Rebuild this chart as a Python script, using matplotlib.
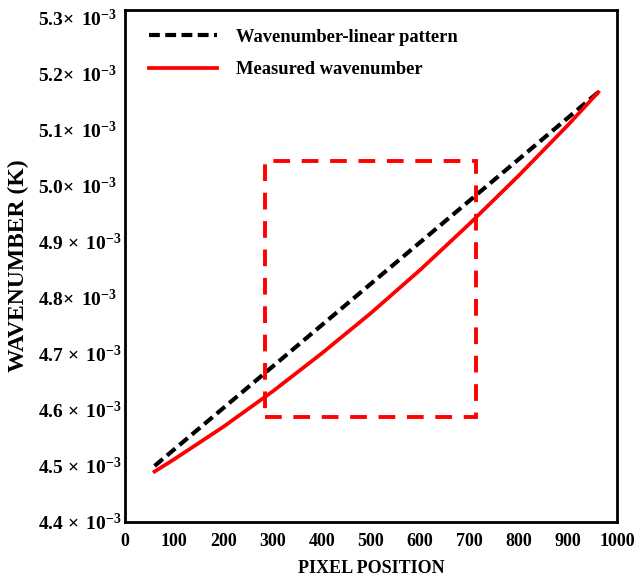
import matplotlib
matplotlib.use("Agg")
import matplotlib.pyplot as plt
from matplotlib.patches import Rectangle

plt.rcParams["font.family"] = ["Liberation Serif", "DejaVu Serif"]
plt.rcParams["font.weight"] = "bold"
plt.rcParams["mathtext.fontset"] = "custom"
plt.rcParams["mathtext.rm"] = "Liberation Serif:bold"
plt.rcParams["mathtext.bf"] = "Liberation Serif:bold"
plt.rcParams["mathtext.it"] = "Liberation Serif:bold"

# linear reference pattern (end points)
linear_x = [60, 962]
linear_y = [4.500e-3, 5.167e-3]

# measured wavenumber
measured_x = [60, 100, 200, 300, 400, 500, 600, 700, 800, 900, 962]
measured_y = [4.490e-3, 4.512e-3, 4.570e-3, 4.633e-3, 4.701e-3, 4.773e-3,
              4.850e-3, 4.932e-3, 5.018e-3, 5.108e-3, 5.167e-3]

# zoom box
box_x = [284, 713]
box_y = [4.5875e-3, 5.045e-3]

y_ticks = [4.4, 4.5, 4.6, 4.7, 4.8, 4.9, 5.0, 5.1, 5.2, 5.3]
# labels in the source have a space before the cross on some rows only
y_spaced = [4.4, 4.5, 4.6, 4.7, 4.9]
x_ticks = [0, 100, 200, 300, 400, 500, 600, 700, 800, 900, 1000]

fig = plt.figure(figsize=(6.38, 5.8), dpi=100)
ax = fig.add_axes([0.196, 0.1, 0.771, 0.883])

ax.plot(linear_x, linear_y, color="black", linestyle=(0, (2.6, 1.3)),
        linewidth=3.0, label="Wavenumber-linear pattern", zorder=3)
ax.plot(measured_x, measured_y, color="red", linewidth=2.7,
        label="Measured wavenumber", zorder=4)
ax.add_patch(Rectangle((box_x[0], box_y[0]), box_x[1] - box_x[0],
                       box_y[1] - box_y[0], fill=False, edgecolor="red",
                       linestyle=(0, (4.3, 3)), linewidth=2.8, zorder=5))

ax.set_xlim(0, 1000)
ax.set_ylim(4.4e-3, 5.314e-3)
ax.set_xticks(x_ticks)
ax.set_xticklabels([str(t) for t in x_ticks], fontsize=13, fontweight="bold")
ax.set_yticks([v * 1e-3 for v in y_ticks])
labels = []
for v in y_ticks:
    sep = " " if v in y_spaced else ""
    labels.append(r"%.1f%s$\times\,$ 10$^{-3}$" % (v, sep))
ax.set_yticklabels(labels, fontsize=14, ha="left")
ax.tick_params(axis="y", length=0, pad=63)
ax.tick_params(axis="x", length=0, pad=8)

for s in ax.spines.values():
    s.set_linewidth(2)
    s.set_color("black")

ax.set_xlabel("PIXEL POSITION", fontsize=13, fontweight="bold", labelpad=7)
ax.set_ylabel("WAVENUMBER (K)", fontsize=17, fontweight="bold", labelpad=6)

ax.legend(loc="upper left", bbox_to_anchor=(0, 1.01), frameon=False,
          handlelength=3.7, handletextpad=1.0, labelspacing=0.85,
          borderaxespad=0.9, prop={"weight": "bold", "size": 13.3})

fig.savefig("out.png", dpi=100)
